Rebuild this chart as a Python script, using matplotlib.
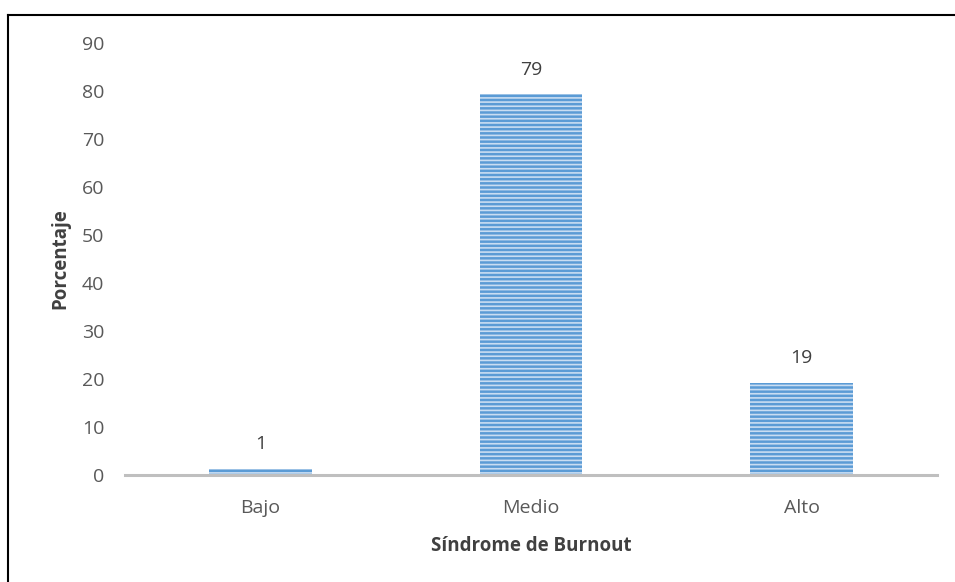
import numpy as np
import matplotlib
matplotlib.use("Agg")
import matplotlib.pyplot as plt
from matplotlib.lines import Line2D

categories = ["Bajo", "Medio", "Alto"]
values = [1.3, 79.3, 19.2]
labels = ["1", "79", "19"]
yticks = [0, 10, 20, 30, 40, 50, 60, 70, 80, 90]

plt.rcParams["font.family"] = ["Open Sans", "DejaVu Sans"]
plt.rcParams["hatch.linewidth"] = 1.2

W, H = 955, 582
fig = plt.figure(figsize=(W / 100, H / 100), dpi=100)
# axes box in pixels: left 125, right 937, top 43, bottom 475
ax = fig.add_axes([125 / W, 1 - 475 / H, (937 - 125) / W, (475 - 43) / H])

x = np.arange(len(categories))
bars = ax.bar(x, values, width=0.38, color="#5B9BD5", edgecolor="#C9DDF2",
              linewidth=0, hatch="----", zorder=2)
for b, lab in zip(bars, labels):
    ax.text(b.get_x() + b.get_width() / 2, b.get_height() + 3.3, lab,
            ha="center", va="bottom", fontsize=14, color="#404040")

ax.set_xlim(-0.5, 2.5)
ax.set_ylim(0, 90)
ax.set_yticks(yticks)
ax.set_xticks(x)
ax.set_xticklabels(categories)
ax.tick_params(axis="both", length=0, labelsize=14, colors="#595959")
ax.tick_params(axis="y", pad=15)
ax.tick_params(axis="x", pad=17)
for s in ["top", "right", "left"]:
    ax.spines[s].set_visible(False)
ax.spines["bottom"].set_color("#BFBFBF")
ax.spines["bottom"].set_linewidth(2.2)
ax.spines["bottom"].set_zorder(3)

ax.set_xlabel("Síndrome de Burnout", fontsize=13.5, fontweight="bold",
              color="#404040", labelpad=14)
ax.set_ylabel("Porcentaje", fontsize=13.5, fontweight="bold",
              color="#404040", labelpad=8)

# outer frame (left and top only)
fig.add_artist(Line2D([7.5 / W, 7.5 / W], [0, 1 - 14.5 / H], color="black",
                      linewidth=1.5, transform=fig.transFigure))
fig.add_artist(Line2D([7.5 / W, 1], [1 - 14.5 / H, 1 - 14.5 / H], color="black",
                      linewidth=1.5, transform=fig.transFigure))

fig.savefig("out.png", dpi=100)
